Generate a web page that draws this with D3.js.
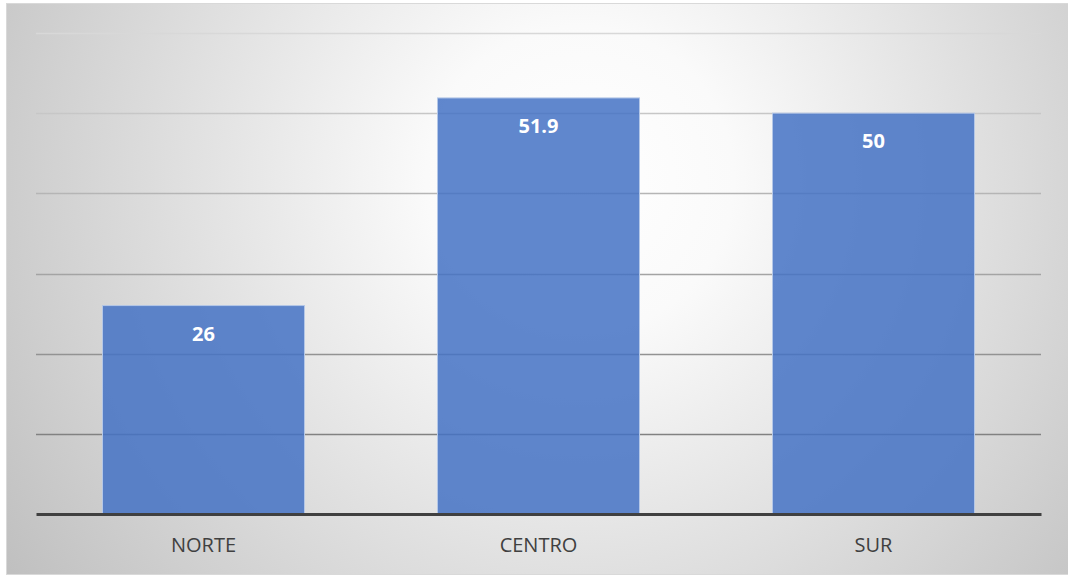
<!DOCTYPE html>
<html>
<head>
<meta charset="utf-8">
<script src="https://cdn.jsdelivr.net/npm/d3@7"></script>
<style>
  body { margin: 0; background: #ffffff; }
  svg { display: block; }
</style>
</head>
<body>
<div id="chart"></div>
<script>
// data
var categories = ["NORTE", "CENTRO", "SUR"];
var values = [26, 51.9, 50];
var gridTicks = [10, 20, 30, 40, 50, 60];

var width = 1068, height = 576;
var plotLeft = 36, plotRight = 1041, plotTop = 33, plotBottom = 514;

var svg = d3.select("#chart").append("svg")
    .attr("width", width)
    .attr("height", height);

var defs = svg.append("defs");

// radial background like the office "gradient" style
var bg = defs.append("radialGradient")
    .attr("id", "bgGrad")
    .attr("gradientUnits", "userSpaceOnUse")
    .attr("cx", 580).attr("cy", 180).attr("r", 700);
bg.append("stop").attr("offset", "0%").attr("stop-color", "#ffffff");
bg.append("stop").attr("offset", "22%").attr("stop-color", "#fafafa");
bg.append("stop").attr("offset", "100%").attr("stop-color", "#bfbfbf");

var gridGrad = defs.append("linearGradient")
    .attr("id", "gridGrad")
    .attr("gradientUnits", "userSpaceOnUse")
    .attr("x1", 0).attr("y1", plotTop).attr("x2", 0).attr("y2", 440);
gridGrad.append("stop").attr("offset", "0%").attr("stop-color", "#d8d8d8");
gridGrad.append("stop").attr("offset", "100%").attr("stop-color", "#808080");

svg.append("rect")
    .attr("x", 6.5).attr("y", 3.5)
    .attr("width", width - 6).attr("height", 571)
    .attr("fill", "url(#bgGrad)")
    .attr("stroke", "#d9d9d9")
    .attr("stroke-width", 1);

var x = d3.scaleBand()
    .domain(categories)
    .range([plotLeft, plotRight])
    .paddingInner(0.397)
    .paddingOuter(0.1985);

var y = d3.scaleLinear()
    .domain([0, 60])
    .range([plotBottom, plotTop]);

// gridlines
svg.append("g")
  .selectAll("line")
  .data(gridTicks)
  .join("line")
    .attr("x1", plotLeft)
    .attr("x2", plotRight)
    .attr("y1", function(d) { return Math.round(y(d)) + 0.5; })
    .attr("y2", function(d) { return Math.round(y(d)) + 0.5; })
    .attr("stroke", "url(#gridGrad)")
    .attr("stroke-width", 1.3);

// bars
svg.append("g")
  .selectAll("rect")
  .data(values)
  .join("rect")
    .attr("x", function(d, i) { return x(categories[i]); })
    .attr("y", function(d) { return y(d); })
    .attr("width", x.bandwidth())
    .attr("height", function(d) { return plotBottom - y(d); })
    .attr("fill", "#4472c4")
    .attr("fill-opacity", 0.85)
    .attr("stroke", "#b4c7e7")
    .attr("stroke-width", 1);

// value labels
svg.append("g")
  .selectAll("text")
  .data(values)
  .join("text")
    .attr("x", function(d, i) { return x(categories[i]) + x.bandwidth() / 2; })
    .attr("y", function(d) { return y(d) + 35; })
    .attr("text-anchor", "middle")
    .attr("fill", "#ffffff")
    .attr("font-family", "'Open Sans', 'Noto Sans', sans-serif")
    .attr("font-weight", "bold")
    .attr("font-size", "20px")
    .text(function(d) { return d; });

// axis baseline
var xAxis = svg.append("g")
    .attr("transform", "translate(0," + plotBottom + ")")
    .call(d3.axisBottom(x).tickSize(0).tickPadding(24));
xAxis.select(".domain")
    .attr("stroke", "#404040")
    .attr("stroke-width", 3);
xAxis.selectAll("text")
    .attr("fill", "#404040")
    .attr("font-family", "'Open Sans', 'Noto Sans', sans-serif")
    .attr("font-size", "20px");
</script>
</body>
</html>
